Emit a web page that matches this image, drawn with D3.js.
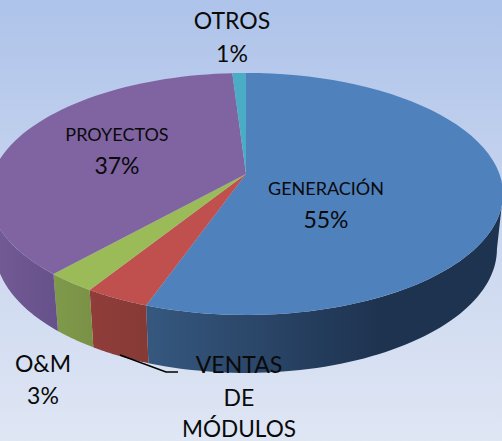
<!DOCTYPE html>
<html><head><meta charset="utf-8">
<script src="https://cdn.jsdelivr.net/npm/d3@7"></script>
<style>html,body{margin:0;padding:0;background:#dde5f4}svg{display:block}text{font-family:Lato,"Open Sans",sans-serif;fill:#0a0a0a;text-anchor:middle}</style>
</head><body><script>
const categories=["GENERACIÓN","VENTAS DE MÓDULOS","O&M","PROYECTOS","OTROS"];
const shares=[55.4,3.5,2.7,37.4,1.0];
const percentLabels=["55%",null,"3%","37%","1%"];
const topColors=["#4f81bd","#c0504d","#9bbb59","#8064a2","#4bacc6"];
const wallFrom=["#36587f","#913d3a","#7f9a4b","#745c96","#3a8ba0"];
const wallTo=["#1e3350","#853a36","#7a9145","#67518a","#3a8ba0"];

const W=502,H=441;
const svg=d3.select("body").append("svg").attr("width",W).attr("height",H);
const defs=svg.append("defs");
const bg=defs.append("linearGradient").attr("id","bg").attr("x1",0).attr("y1",0).attr("x2",0).attr("y2",1);
bg.append("stop").attr("offset",0).attr("stop-color","#aec3ea");
bg.append("stop").attr("offset",0.5).attr("stop-color","#c9d6ef");
bg.append("stop").attr("offset",1).attr("stop-color","#dfe6f4");
svg.append("rect").attr("width",W).attr("height",H).attr("fill","url(#bg)");

// perspective projection of the pie's two rims
const k=0.165;
const rim=(cx,cy,a,b)=>t=>{const X=Math.sin(t),Y=Math.cos(t),w=1+k*Y;return [cx+a*X/w,cy-b*Y/w];};
const topRim=rim(246,174,253.5,117.7);
const botRim=rim(246,228.5,247.5,120.6);

const pie=d3.pie().sort(null).value(d=>d)(shares);
const samples=(a,b)=>d3.range(0,61).map(i=>a+(b-a)*i/60);
const line=d3.line();

// walls: the rim faces the viewer between its two widest points
const wallMin=Math.acos(-k),wallMax=2*Math.PI-Math.acos(-k);
pie.forEach((s,i)=>{
  const a=Math.max(s.startAngle,wallMin),b=Math.min(s.endAngle,wallMax);
  if(b<=a)return;
  const ts=samples(a,b);
  const pts=ts.map(topRim).concat(ts.slice().reverse().map(botRim));
  const id="wall"+i;
  const xs=pts.map(p=>p[0]);
  const g=defs.append("linearGradient").attr("id",id).attr("gradientUnits","userSpaceOnUse")
    .attr("x1",d3.min(xs)).attr("x2",d3.max(xs)).attr("y1",0).attr("y2",0);
  g.append("stop").attr("offset",0).attr("stop-color",wallFrom[i]);
  g.append("stop").attr("offset",i===0?0.65:1).attr("stop-color",wallTo[i]);
  svg.append("path").attr("d",line(pts)+"Z").attr("fill","url(#"+id+")");
});

// top face
pie.forEach((s,i)=>{
  const pts=[[246,174]].concat(samples(s.startAngle,s.endAngle).map(topRim));
  svg.append("path").attr("d",line(pts)+"Z").attr("fill",topColors[i]);
});

// leader line for VENTAS DE MÓDULOS
svg.append("path").attr("d",line([[120,355],[166,372],[178,372]])).attr("fill","none").attr("stroke","#000").attr("stroke-width",1.6);

const label=(x,y,size,str)=>svg.append("text").attr("x",x).attr("y",y).attr("font-size",size).text(str);
label(232,29,23,categories[4]);
label(232,62,23,percentLabels[4]);
label(117,141,18,categories[3]);
label(117,174,23,percentLabels[3]);
label(326,195,18,categories[0]);
label(326,228,23,percentLabels[0]);
label(43,372,23,categories[2]);
label(43,404,23,percentLabels[2]);
label(239,373,23,"VENTAS");
label(239,406,23,"DE");
label(239,437,22.6,"MÓDULOS");
</script></body></html>
